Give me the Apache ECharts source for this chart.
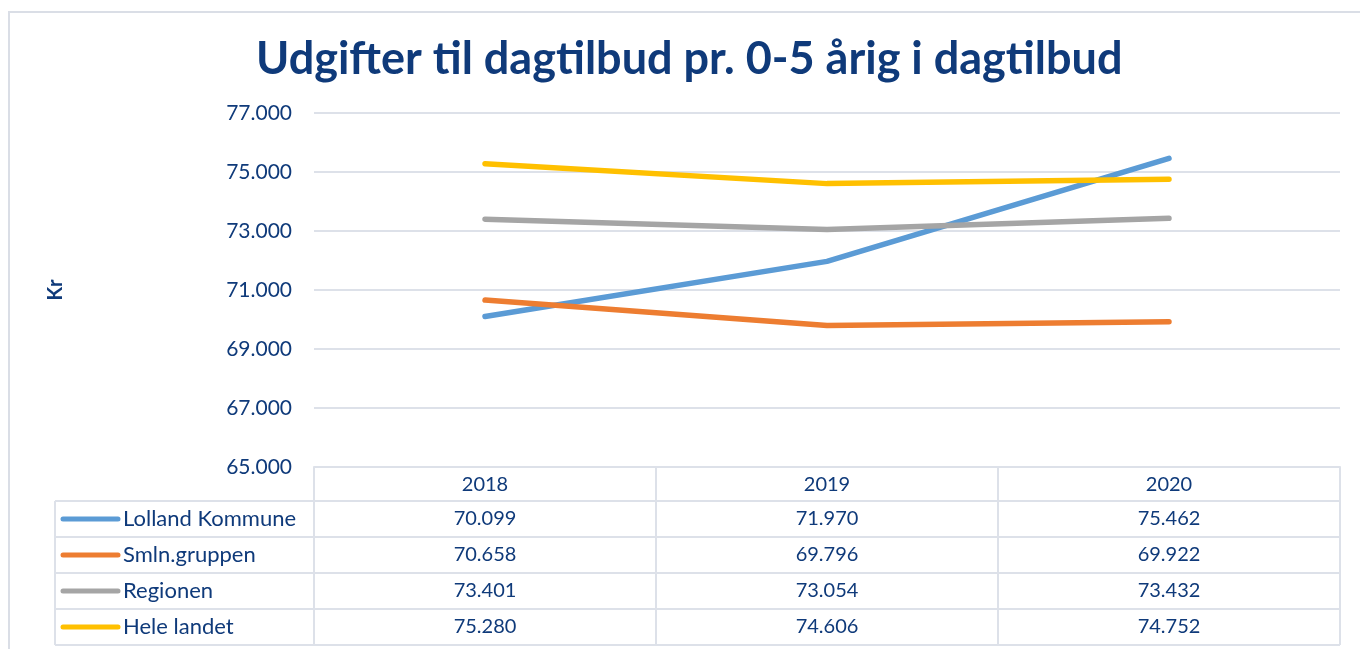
<!DOCTYPE html>
<html>
<head>
<meta charset="utf-8">
<script src="https://cdn.jsdelivr.net/npm/echarts@6/dist/echarts.min.js"></script>
<style>
html,body{margin:0;padding:0;background:#fff;}
#chart{width:1360px;height:649px;}
</style>
</head>
<body>
<div id="chart"></div>
<script>
const title = 'Udgifter til dagtilbud pr. 0-5 årig i dagtilbud';
const yAxisName = 'Kr';
const categories = ['2018', '2019', '2020'];
const seriesNames = ['Lolland Kommune', 'Smln.gruppen', 'Regionen', 'Hele landet'];
const lollandKommune = [70099, 71970, 75462];
const smlnGruppen = [70658, 69796, 69922];
const regionen = [73401, 73054, 73432];
const heleLandet = [75280, 74606, 74752];
const yMin = 65000, yMax = 77000, yInterval = 2000;

const seriesValues = [lollandKommune, smlnGruppen, regionen, heleLandet];
const colors = ['#5b9bd5', '#ed7d31', '#a5a5a5', '#ffc000'];
const navy = '#0f3a7a';
const gridColor = '#dde1e9';
const fontFam = 'Lato, "Open Sans", sans-serif';

function fmt(n) {
  return String(n).replace(/\B(?=(\d{3})+(?!\d))/g, '.');
}

const chart = echarts.init(document.getElementById('chart'), null, {renderer: 'canvas'});

const option = {
  backgroundColor: '#fff',
  animation: false,
  title: {
    text: title,
    left: 251,
    top: 32,
    textStyle: {color: navy, fontSize: 45, fontWeight: 'bold', fontFamily: fontFam}
  },
  grid: {left: 314, right: 20, top: 113, bottom: 182, containLabel: false},
  xAxis: {
    type: 'category',
    data: categories,
    boundaryGap: true,
    axisLine: {show: true, lineStyle: {color: gridColor, width: 2}},
    axisTick: {show: false},
    axisLabel: {color: navy, fontSize: 20, fontFamily: fontFam, margin: 8},
    splitLine: {show: false}
  },
  yAxis: {
    type: 'value',
    min: yMin,
    max: yMax,
    interval: yInterval,
    name: yAxisName,
    nameLocation: 'middle',
    nameRotate: 90,
    nameGap: 248,
    nameTextStyle: {color: navy, fontSize: 20, fontWeight: 'bold', fontFamily: fontFam},
    axisLine: {show: false},
    axisTick: {show: false},
    axisLabel: {color: navy, fontSize: 21, fontFamily: fontFam, margin: 22, formatter: v => fmt(v)},
    splitLine: {show: true, lineStyle: {color: gridColor, width: 2}}
  },
  series: seriesNames.map((name, i) => ({
    name: name,
    type: 'line',
    data: seriesValues[i],
    symbol: 'none',
    lineStyle: {color: colors[i], width: 5.5, cap: 'round', join: 'round'},
    itemStyle: {color: colors[i]},
    z: 3
  }))
};
chart.setOption(option);

// Data table below the axis, aligned with the category bands
const xc = categories.map(c => chart.convertToPixel({xAxisIndex: 0}, c));
const band = xc.length > 1 ? xc[1] - xc[0] : 340;
const gridL = xc[0] - band / 2;
const gridR = xc[xc.length - 1] + band / 2;
const axisY = chart.convertToPixel({yAxisIndex: 0}, yMin);
const headerH = 34;
const rowH = 36;
const tableLeft = 55;
const firstRowTop = axisY + headerH;
const tableBottom = firstRowTop + rowH * seriesNames.length;

const g = [];
const ls = {stroke: gridColor, lineWidth: 2};
// outer frame
g.push({type: 'rect', shape: {x: 9, y: 12, width: 1400, height: 700}, style: {fill: null, stroke: '#dadee6', lineWidth: 2}, silent: true});
// horizontal lines
for (let r = 0; r <= seriesNames.length; r++) {
  const y = firstRowTop + r * rowH;
  g.push({type: 'line', shape: {x1: tableLeft, y1: y, x2: gridR, y2: y}, style: ls, silent: true});
}
// vertical lines
g.push({type: 'line', shape: {x1: tableLeft, y1: firstRowTop, x2: tableLeft, y2: tableBottom}, style: ls, silent: true});
for (let c = 0; c <= categories.length; c++) {
  const x = gridL + c * band;
  g.push({type: 'line', shape: {x1: x, y1: axisY, x2: x, y2: tableBottom}, style: ls, silent: true});
}
// rows
seriesNames.forEach((name, r) => {
  const cy = firstRowTop + r * rowH + rowH / 2;
  g.push({type: 'line', shape: {x1: 63, y1: cy, x2: 118, y2: cy}, style: {stroke: colors[r], lineWidth: 5, lineCap: 'round'}, silent: true});
  g.push({type: 'text', x: 123, y: cy, style: {text: name, fill: navy, fontSize: 22, fontFamily: fontFam, textAlign: 'left', textVerticalAlign: 'middle'}, silent: true});
  seriesValues[r].forEach((v, c) => {
    g.push({type: 'text', x: xc[c], y: cy, style: {text: fmt(v), fill: navy, fontSize: 20, fontFamily: fontFam, textAlign: 'center', textVerticalAlign: 'middle'}, silent: true});
  });
});
chart.setOption({graphic: g});
</script>
</body>
</html>
